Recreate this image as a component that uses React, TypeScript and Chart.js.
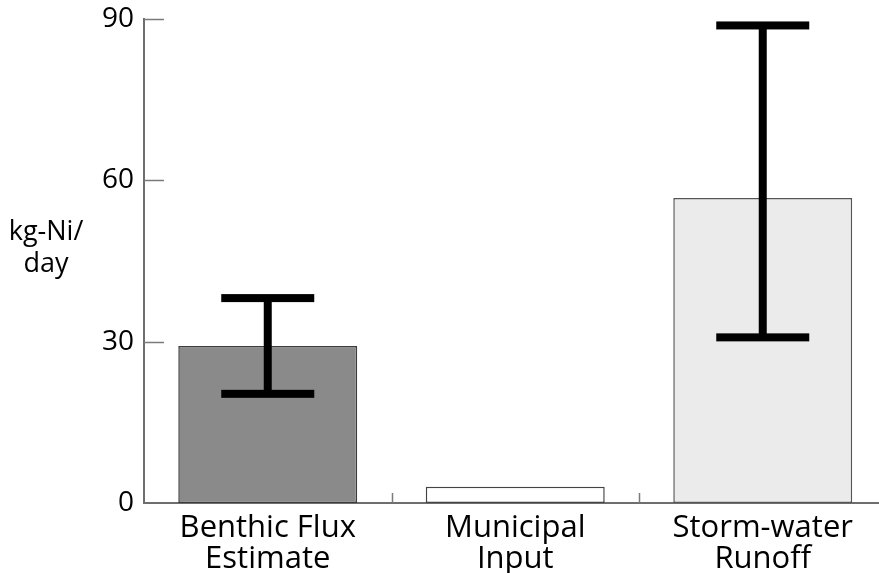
import React, { useEffect, useRef } from "react";
import { Chart, registerables } from "chart.js";

Chart.register(...registerables);

const categories: string[][] = [
  ["Benthic Flux", "Estimate"],
  ["Municipal", "Input"],
  ["Storm-water", "Runoff"],
];
const values: number[] = [29.2, 3.0, 56.7];
const errLow: (number | null)[] = [20.3, null, 30.8];
const errHigh: (number | null)[] = [38.1, null, 88.8];
const yTicks: number[] = [0, 30, 60, 90];
const yTitle: string[] = ["kg-Ni/", "day"];

const FONT = "'Open Sans', 'Noto Sans', sans-serif";

const extrasPlugin = {
  id: "extras",
  afterDatasetsDraw(chart: any) {
    const ctx = chart.ctx;
    const x = chart.scales.x;
    const y = chart.scales.y;
    const area = chart.chartArea;
    ctx.save();
    // inward y ticks
    ctx.strokeStyle = "#7a7a7a";
    ctx.lineWidth = 1.5;
    yTicks.forEach((v) => {
      const py = Math.round(y.getPixelForValue(v)) + 0.5;
      if (v === 0) return;
      ctx.beginPath();
      ctx.moveTo(area.left, py);
      ctx.lineTo(area.left + 20, py);
      ctx.stroke();
    });
    // category separators
    for (let i = 0; i < categories.length - 1; i++) {
      const px = Math.round((x.getPixelForValue(i) + x.getPixelForValue(i + 1)) / 2) + 0.5;
      ctx.beginPath();
      ctx.moveTo(px, area.bottom);
      ctx.lineTo(px, area.bottom - 10);
      ctx.stroke();
    }
    // error bars
    ctx.fillStyle = "#000";
    const meta = chart.getDatasetMeta(0);
    values.forEach((_, i) => {
      const lo = errLow[i];
      const hi = errHigh[i];
      if (lo == null || hi == null) return;
      const cx = meta.data[i].x;
      const yl = y.getPixelForValue(lo);
      const yh = y.getPixelForValue(hi);
      const stem = 8;
      const capW = 93;
      const capH = 8;
      ctx.fillRect(cx - stem / 2, yh, stem, yl - yh);
      ctx.fillRect(cx - capW / 2, yh - capH / 2, capW, capH);
      ctx.fillRect(cx - capW / 2, yl - capH / 2, capW, capH);
    });
    // y title
    ctx.fillStyle = "#000";
    ctx.font = `27px ${FONT}`;
    ctx.textAlign = "center";
    ctx.textBaseline = "alphabetic";
    ctx.fillText(yTitle[0], 46, 240);
    ctx.fillText(yTitle[1], 46, 272);
    ctx.restore();
  },
};

export default function App() {
  const ref = useRef<HTMLCanvasElement | null>(null);
  useEffect(() => {
    if (!ref.current) return;
    const chart = new Chart(ref.current, {
      type: "bar",
      data: {
        labels: categories,
        datasets: [
          {
            data: values,
            backgroundColor: ["#8a8a8a", "#ffffff", "#ebebeb"],
            borderColor: ["#3c3c3c", "#444444", "#555555"],
            borderWidth: 1.5,
            borderSkipped: false,
            categoryPercentage: 1,
            barPercentage: 0.723,
          },
        ],
      },
      options: {
        responsive: false,
        animation: false,
        layout: { padding: { top: 19, right: 13.5, left: 0, bottom: 0 } },
        plugins: { legend: { display: false }, tooltip: { enabled: false } },
        scales: {
          x: {
            offset: true,
            grid: { display: false, drawTicks: false },
            border: { display: true, color: "#6e6e6e", width: 2 },
            ticks: {
              color: "#000",
              font: { family: FONT, size: 31, lineHeight: 1.0 },
              padding: 10,
              maxRotation: 0,
              autoSkip: false,
            },
            afterFit: (s: any) => {
              s.height = 70;
              s.paddingLeft = 0;
              s.paddingRight = 0;
            },
          },
          y: {
            min: 0,
            max: 90,
            afterBuildTicks: (s: any) => {
              s.ticks = yTicks.map((v) => ({ value: v }));
            },
            grid: { display: false, drawTicks: false },
            border: { display: true, color: "#6e6e6e", width: 2 },
            ticks: {
              color: "#000",
              font: { family: FONT, size: 28 },
              padding: 10,
            },
            afterFit: (s: any) => {
              s.width = 144;
              s.paddingTop = 0;
              s.paddingBottom = 0;
            },
          },
        },
      },
      plugins: [extrasPlugin],
    });
    return () => chart.destroy();
  }, []);
  return (
    <div
      style={{
        position: "fixed",
        left: 0,
        top: 0,
        width: 879,
        height: 573,
        overflow: "hidden",
        background: "#fff",
      }}
    >
      <canvas ref={ref} width={900} height={573} style={{ display: "block" }} />
    </div>
  );
}
